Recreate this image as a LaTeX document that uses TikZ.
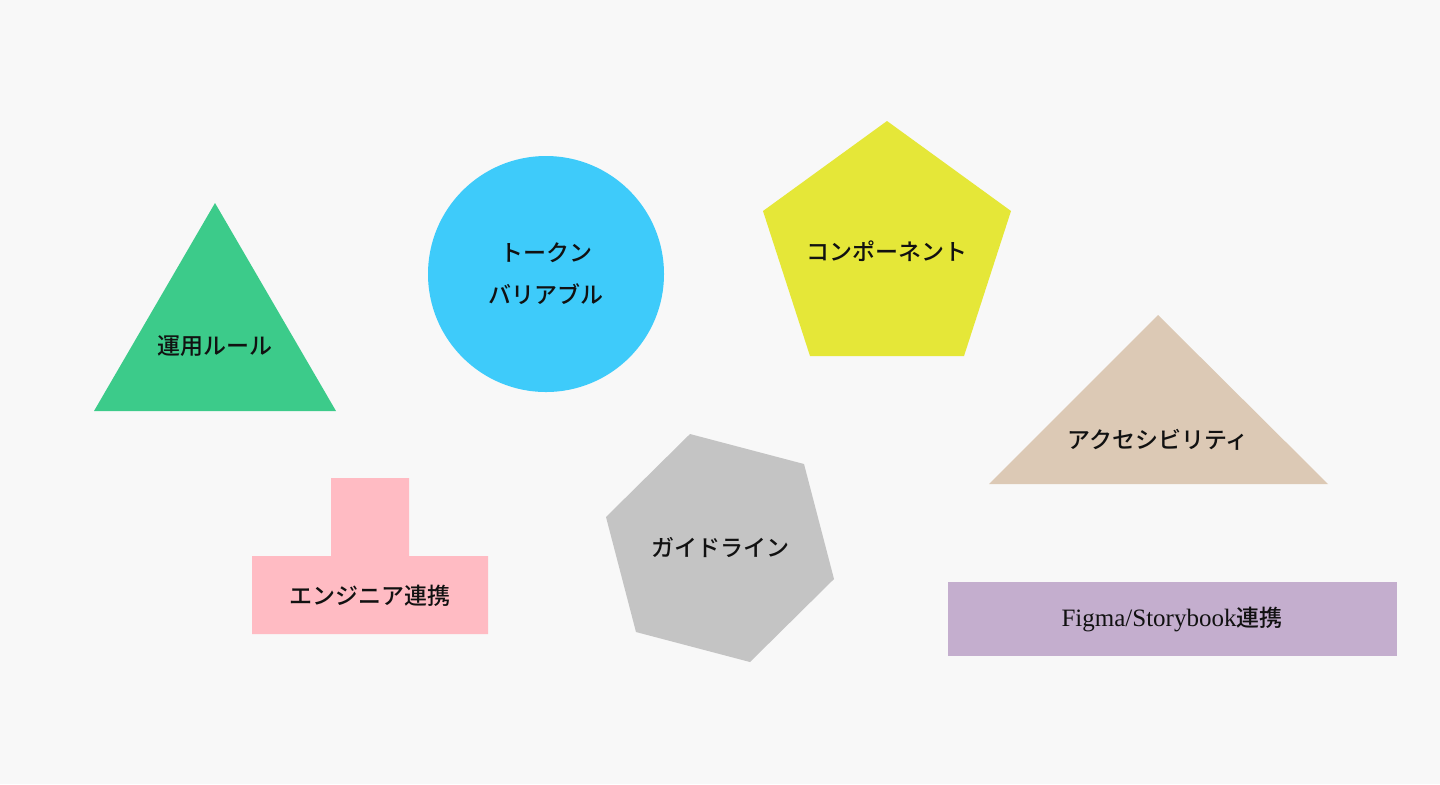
\documentclass[tikz,border=0pt]{standalone}
\usepackage{fontspec}
\setmainfont{Liberation Serif}
\newfontfamily\jp{Noto Sans CJK JP Medium}
\definecolor{bg}{RGB}{248,248,248}
\definecolor{rulegreen}{RGB}{60,203,138}
\definecolor{tokenblue}{RGB}{62,203,250}
\definecolor{compyellow}{RGB}{229,231,56}
\definecolor{accesstan}{RGB}{220,201,181}
\definecolor{engpink}{RGB}{255,187,195}
\definecolor{guidegray}{RGB}{196,196,196}
\definecolor{figmapurple}{RGB}{196,174,206}
\definecolor{ink}{RGB}{17,17,17}
\begin{document}
\begin{tikzpicture}[x=0.5pt,y=-0.5pt]
        \useasboundingbox (0,0) rectangle (1440,784);
        \fill[bg] (0,0) rectangle (1440,784);
        \begin{scope}[every path/.style={draw=none}]
            \fill[rulegreen] (215,203) -- (336,411) -- (94,411) -- cycle;
            \fill[tokenblue] (546,274) circle (118);
            \fill[compyellow] (887,121) -- (1011,211) -- (964,356) -- (810,356) -- (763,211) -- cycle;
            \fill[accesstan] (1158,315) -- (1328,484) -- (989,484) -- cycle;
            \fill[engpink] (331,478) -- (409,478) -- (409,556) -- (488,556)
                -- (488,634) -- (252,634) -- (252,556) -- (331,556) -- cycle;
            \fill[guidegray] (690,434) -- (804,464) -- (834,579) -- (750,662) -- (636,632) -- (606,517) -- cycle;
            \fill[figmapurple] (948,582) rectangle (1397,656);
        \end{scope}
        \begin{scope}[every node/.style={font=\jp\fontsize{11.5}{21}\selectfont,text=ink,align=center,inner sep=0}]
            \node (rule)   at (215,346) {運用ルール};
            \node (token)  at (546,274) {トークン\\バリアブル};
            \node (comp)   at (887,251) {コンポーネント};
            \node (access) at (1158,440) {アクセシビリティ};
            \node (eng)    at (370,596) {エンジニア連携};
            \node (guide)  at (720,547) {ガイドライン};
            \node (figma)  at (1172,619) {{\rmfamily\fontsize{12.5}{14}\selectfont Figma/Storybook}連携};
        \end{scope}
    \end{tikzpicture}
\end{document}
